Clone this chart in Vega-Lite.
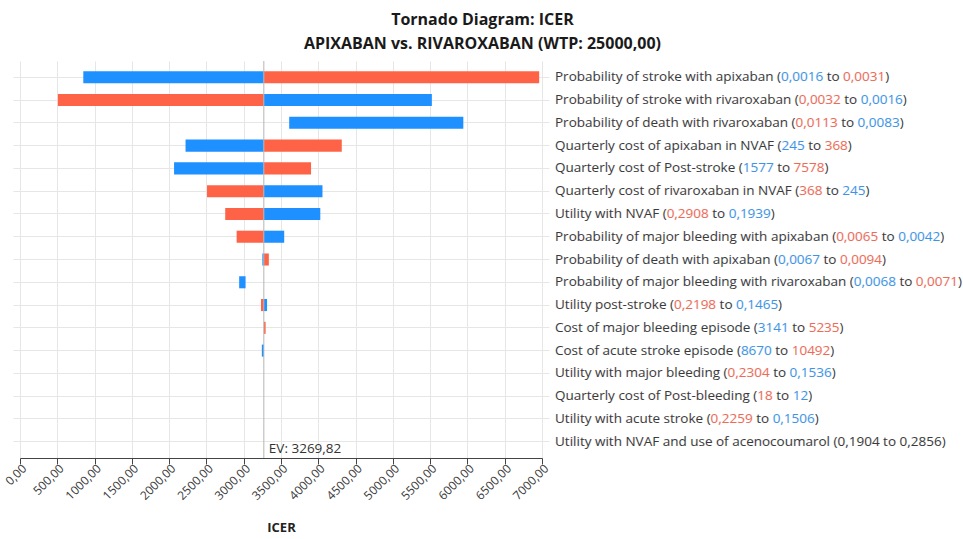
{
  "$schema": "https://vega.github.io/schema/vega-lite/v6.json",
  "width": 522,
  "height": 397,
  "padding": {"left": 3, "top": 11, "right": 5, "bottom": 5},
  "background": "white",
  "config": {
    "locale": {"number": {"decimal": ",", "thousands": ".", "grouping": [3], "currency": ["", ""]}},
    "font": "Open Sans",
    "view": {"stroke": null},
    "text": {"align": "left", "baseline": "middle", "dx": 13, "fontSize": 13.5, "font": "Open Sans"}
  },
  "title": {
    "text": ["Tornado Diagram: ICER", "APIXABAN vs. RIVAROXABAN (WTP: 25000,00)"],
    "anchor": "middle",
    "frame": "bounds",
    "font": "Open Sans",
    "fontSize": 16,
    "fontWeight": "bold",
    "color": "#1a1a1a",
    "lineHeight": 24,
    "offset": 9
  },
  "datasets": {
    "bars": [
      {"param": "Probability of stroke with apixaban", "type": "Low", "start": 849, "end": 3269.82},
      {"param": "Probability of stroke with apixaban", "type": "High", "start": 3269.82, "end": 6962},
      {"param": "Probability of stroke with rivaroxaban", "type": "High", "start": 508, "end": 3269.82},
      {"param": "Probability of stroke with rivaroxaban", "type": "Low", "start": 3269.82, "end": 5523},
      {"param": "Probability of death with rivaroxaban", "type": "Low", "start": 3610, "end": 5945},
      {"param": "Quarterly cost of apixaban in NVAF", "type": "Low", "start": 2220, "end": 3269.82},
      {"param": "Quarterly cost of apixaban in NVAF", "type": "High", "start": 3269.82, "end": 4315},
      {"param": "Quarterly cost of Post-stroke", "type": "Low", "start": 2066, "end": 3269.82},
      {"param": "Quarterly cost of Post-stroke", "type": "High", "start": 3269.82, "end": 3903},
      {"param": "Quarterly cost of rivaroxaban in NVAF", "type": "High", "start": 2508, "end": 3269.82},
      {"param": "Quarterly cost of rivaroxaban in NVAF", "type": "Low", "start": 3269.82, "end": 4056},
      {"param": "Utility with NVAF", "type": "High", "start": 2752, "end": 3269.82},
      {"param": "Utility with NVAF", "type": "Low", "start": 3269.82, "end": 4027},
      {"param": "Probability of major bleeding with apixaban", "type": "High", "start": 2905, "end": 3269.82},
      {"param": "Probability of major bleeding with apixaban", "type": "Low", "start": 3269.82, "end": 3543},
      {"param": "Probability of death with apixaban", "type": "Low", "start": 3250, "end": 3269.82},
      {"param": "Probability of death with apixaban", "type": "High", "start": 3269.82, "end": 3337},
      {"param": "Probability of major bleeding with rivaroxaban", "type": "Low", "start": 2939, "end": 3025},
      {"param": "Utility post-stroke", "type": "High", "start": 3232, "end": 3269.82},
      {"param": "Utility post-stroke", "type": "Low", "start": 3269.82, "end": 3313},
      {"param": "Cost of major bleeding episode", "type": "High", "start": 3269.82, "end": 3294},
      {"param": "Cost of acute stroke episode", "type": "Low", "start": 3243, "end": 3269.82}
    ],
    "labels": [
      {"param": "Probability of stroke with apixaban", "v1": "0,0016", "c1": "Low", "v2": "0,0031", "c2": "High"},
      {"param": "Probability of stroke with rivaroxaban", "v1": "0,0032", "c1": "High", "v2": "0,0016", "c2": "Low"},
      {"param": "Probability of death with rivaroxaban", "v1": "0,0113", "c1": "High", "v2": "0,0083", "c2": "Low"},
      {"param": "Quarterly cost of apixaban in NVAF", "v1": "245", "c1": "Low", "v2": "368", "c2": "High"},
      {"param": "Quarterly cost of Post-stroke", "v1": "1577", "c1": "Low", "v2": "7578", "c2": "High"},
      {"param": "Quarterly cost of rivaroxaban in NVAF", "v1": "368", "c1": "High", "v2": "245", "c2": "Low"},
      {"param": "Utility with NVAF", "v1": "0,2908", "c1": "High", "v2": "0,1939", "c2": "Low"},
      {"param": "Probability of major bleeding with apixaban", "v1": "0,0065", "c1": "High", "v2": "0,0042", "c2": "Low"},
      {"param": "Probability of death with apixaban", "v1": "0,0067", "c1": "Low", "v2": "0,0094", "c2": "High"},
      {"param": "Probability of major bleeding with rivaroxaban", "v1": "0,0068", "c1": "Low", "v2": "0,0071", "c2": "High"},
      {"param": "Utility post-stroke", "v1": "0,2198", "c1": "High", "v2": "0,1465", "c2": "Low"},
      {"param": "Cost of major bleeding episode", "v1": "3141", "c1": "Low", "v2": "5235", "c2": "High"},
      {"param": "Cost of acute stroke episode", "v1": "8670", "c1": "Low", "v2": "10492", "c2": "High"},
      {"param": "Utility with major bleeding", "v1": "0,2304", "c1": "High", "v2": "0,1536", "c2": "Low"},
      {"param": "Quarterly cost of Post-bleeding", "v1": "18", "c1": "High", "v2": "12", "c2": "Low"},
      {"param": "Utility with acute stroke", "v1": "0,2259", "c1": "High", "v2": "0,1506", "c2": "Low"},
      {"param": "Utility with NVAF and use of acenocoumarol", "v1": "0,1904", "c1": "None", "v2": "0,2856", "c2": "None"}
    ],
    "ev": [{"ev": 3269.82, "label": "EV: 3269,82"}]
  },
  "resolve": {"axis": {"x": "independent", "y": "independent"}},
  "layer": [
    {
      "data": {"name": "bars"},
      "mark": {"type": "bar", "height": {"band": 0.53}},
      "encoding": {
        "y": {
          "field": "param", "type": "nominal",
          "scale": {
            "domain": [
              "Probability of stroke with apixaban",
              "Probability of stroke with rivaroxaban",
              "Probability of death with rivaroxaban",
              "Quarterly cost of apixaban in NVAF",
              "Quarterly cost of Post-stroke",
              "Quarterly cost of rivaroxaban in NVAF",
              "Utility with NVAF",
              "Probability of major bleeding with apixaban",
              "Probability of death with apixaban",
              "Probability of major bleeding with rivaroxaban",
              "Utility post-stroke",
              "Cost of major bleeding episode",
              "Cost of acute stroke episode",
              "Utility with major bleeding",
              "Quarterly cost of Post-bleeding",
              "Utility with acute stroke",
              "Utility with NVAF and use of acenocoumarol"
            ],
            "paddingInner": 0, "paddingOuter": 0.215
          },
          "axis": {"title": null, "labels": false, "domain": false, "ticks": true, "tickSize": 7, "tickColor": "#e6e6e6", "grid": true, "gridColor": "#e6e6e6", "bandPosition": 0.5}
        },
        "x": {
          "field": "start", "type": "quantitative",
          "scale": {"domain": [0, 7000], "nice": false, "zero": false},
          "axis": {
            "values": [0, 500, 1000, 1500, 2000, 2500, 3000, 3500, 4000, 4500, 5000, 5500, 6000, 6500, 7000],
            "format": ".2f", "labelAngle": -45, "labelAlign": "right", "labelBaseline": "middle", "labelOverlap": false, "labelBound": false, "labelFlush": false, "labelOffset": 4,
            "labelFontSize": 12, "labelColor": "#3a3a3a", "labelFont": "Open Sans",
            "grid": true, "gridColor": "#e6e6e6",
            "domainColor": "#444444", "tickColor": "#444444", "tickSize": 6,
            "title": "ICER", "titleFontSize": 13, "titleFontWeight": "bold", "titleColor": "#222222", "titleFont": "Open Sans", "titlePadding": 20
          }
        },
        "x2": {"field": "end"},
        "color": {"field": "type", "type": "nominal", "scale": {"domain": ["Low", "High"], "range": ["#1e90ff", "#ff6347"]}, "legend": null}
      }
    },
    {
      "data": {"name": "ev"},
      "mark": {"type": "rule", "color": "#b5b5b5", "strokeWidth": 1},
      "encoding": {"x": {"field": "ev", "type": "quantitative", "axis": null}}
    },
    {
      "data": {"name": "ev"},
      "mark": {"type": "text", "align": "left", "baseline": "bottom", "dx": 5, "dy": -2, "y": "height", "fontSize": 13.5, "color": "#333333"},
      "encoding": {"x": {"field": "ev", "type": "quantitative", "axis": null}, "text": {"field": "label"}}
    },
    {
      "data": {"name": "labels"},
      "transform": [{"calculate": "datum.param + ' (' + datum.v1 + ' to ' + datum.v2 + ')'", "as": "t"}],
      "mark": {"type": "text", "color": "#3a3a3a"},
      "encoding": {
        "y": {"field": "param", "type": "nominal", "axis": {"orient": "right", "title": null, "labels": false, "domain": false, "ticks": true, "tickSize": 7, "tickColor": "#e6e6e6", "grid": false, "bandPosition": 0.5}},
        "x": {"datum": 7000, "axis": null},
        "text": {"field": "t"}
      }
    },
    {
      "data": {"name": "labels"},
      "transform": [{"calculate": "datum.param + ' (' + datum.v1 + ' to ' + datum.v2", "as": "t"}],
      "mark": {"type": "text", "color": "white", "stroke": "white", "strokeWidth": 1},
      "encoding": {"y": {"field": "param", "type": "nominal", "axis": null}, "x": {"datum": 7000, "axis": null}, "text": {"field": "t"}}
    },
    {
      "data": {"name": "labels"},
      "transform": [{"calculate": "datum.param + ' (' + datum.v1 + ' to ' + datum.v2", "as": "t"}],
      "mark": {"type": "text"},
      "encoding": {
        "y": {"field": "param", "type": "nominal", "axis": null},
        "x": {"datum": 7000, "axis": null},
        "text": {"field": "t"},
        "color": {"condition": [{"test": "datum.c2 === 'Low'", "value": "#3a95e8"}, {"test": "datum.c2 === 'High'", "value": "#ee6a55"}], "value": "#3a3a3a"}
      }
    },
    {
      "data": {"name": "labels"},
      "transform": [{"calculate": "datum.param + ' (' + datum.v1 + ' to '", "as": "t"}],
      "mark": {"type": "text", "color": "white", "stroke": "white", "strokeWidth": 1},
      "encoding": {"y": {"field": "param", "type": "nominal", "axis": null}, "x": {"datum": 7000, "axis": null}, "text": {"field": "t"}}
    },
    {
      "data": {"name": "labels"},
      "transform": [{"calculate": "datum.param + ' (' + datum.v1 + ' to '", "as": "t"}],
      "mark": {"type": "text", "color": "#3a3a3a"},
      "encoding": {"y": {"field": "param", "type": "nominal", "axis": null}, "x": {"datum": 7000, "axis": null}, "text": {"field": "t"}}
    },
    {
      "data": {"name": "labels"},
      "transform": [{"calculate": "datum.param + ' (' + datum.v1", "as": "t"}],
      "mark": {"type": "text", "color": "white", "stroke": "white", "strokeWidth": 1},
      "encoding": {"y": {"field": "param", "type": "nominal", "axis": null}, "x": {"datum": 7000, "axis": null}, "text": {"field": "t"}}
    },
    {
      "data": {"name": "labels"},
      "transform": [{"calculate": "datum.param + ' (' + datum.v1", "as": "t"}],
      "mark": {"type": "text"},
      "encoding": {
        "y": {"field": "param", "type": "nominal", "axis": null},
        "x": {"datum": 7000, "axis": null},
        "text": {"field": "t"},
        "color": {"condition": [{"test": "datum.c1 === 'Low'", "value": "#3a95e8"}, {"test": "datum.c1 === 'High'", "value": "#ee6a55"}], "value": "#3a3a3a"}
      }
    },
    {
      "data": {"name": "labels"},
      "transform": [{"calculate": "datum.param + ' ('", "as": "t"}],
      "mark": {"type": "text", "color": "white", "stroke": "white", "strokeWidth": 1},
      "encoding": {"y": {"field": "param", "type": "nominal", "axis": null}, "x": {"datum": 7000, "axis": null}, "text": {"field": "t"}}
    },
    {
      "data": {"name": "labels"},
      "transform": [{"calculate": "datum.param + ' ('", "as": "t"}],
      "mark": {"type": "text", "color": "#3a3a3a"},
      "encoding": {"y": {"field": "param", "type": "nominal", "axis": null}, "x": {"datum": 7000, "axis": null}, "text": {"field": "t"}}
    }
  ]
}
